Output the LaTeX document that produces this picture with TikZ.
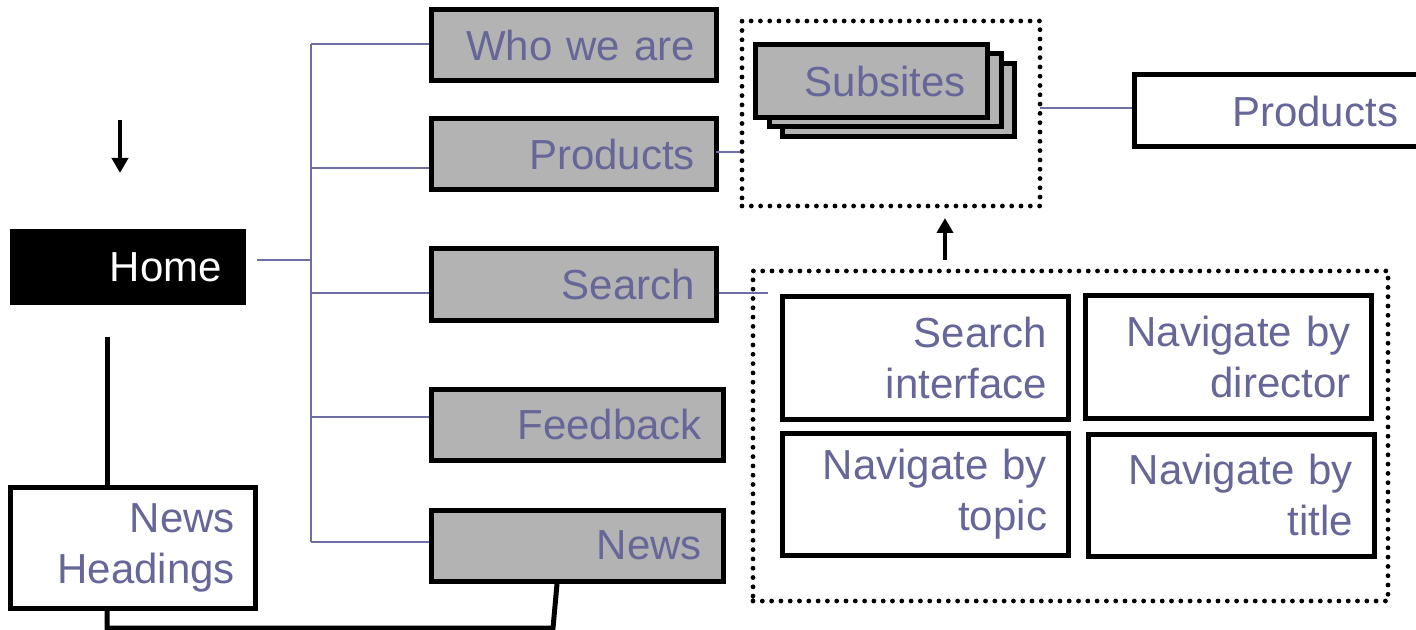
\documentclass[tikz,border=0pt]{standalone}
\usepackage{fontspec}
\setmainfont[WordSpace=0.85]{Liberation Sans}
\usetikzlibrary{arrows.meta}
\definecolor{txtpurple}{RGB}{102,102,153}
\definecolor{linepurple}{RGB}{110,110,165}
\definecolor{boxgray}{RGB}{179,179,179}
\tikzset{
  box/.style={draw=black, line width=2.5pt, inner xsep=10.5pt, inner ysep=0pt, align=right,
    text=txtpurple, font=\fontsize{21pt}{25.5pt}\selectfont, rectangle},
  gbox/.style={box, fill=boxgray},
  wbox/.style={box, fill=white},
  dotbox/.style={draw=black, line width=2.4pt, dash pattern=on 0pt off 4.65pt, line cap=round, rectangle, inner sep=0pt},
  tree/.style={draw=linepurple, line width=1pt},
  thick link/.style={draw=black, line width=2.5pt},
  arr/.style={draw=black, line width=2pt, -{Triangle[length=7.5pt,width=8pt]}}
}
\begin{document}
\begin{tikzpicture}[x=0.5pt,y=-0.5pt]
\useasboundingbox (0,0) rectangle (1416,630);
\clip (0,0) rectangle (1416,630);
\fill[white] (0,0) rectangle (1416,630);

% Home and left column
\node[box, fill=black, draw=black, text=white, inner xsep=11.5pt, text width=94.5pt,
  minimum width=117.5pt, minimum height=37.5pt, line width=0pt] (home) at (127.5,267) {Home};
\node[wbox, inner xsep=10pt, text width=102.5pt, minimum width=122.5pt, minimum height=60.5pt]
  (nh) at (132.5,547.5) {News\\Headings};

% gray column
\node[gbox, text width=121.5pt, minimum width=142.5pt, minimum height=35.5pt] (who) at (573.5,45.5) {Who we are};
\node[gbox, text width=121.5pt, minimum width=142.5pt, minimum height=35.5pt] (prod) at (573.5,154.5) {Products};
\node[gbox, text width=121.5pt, minimum width=142.5pt, minimum height=35.5pt] (srch) at (573.5,284.5) {Search};
\node[gbox, text width=125pt, minimum width=146pt, minimum height=35.5pt] (fb) at (577,424.5) {Feedback};
\node[gbox, text width=125pt, minimum width=146pt, minimum height=35.5pt] (news) at (577,545.5) {News};

% subsites group
\node[dotbox, minimum width=149pt, minimum height=92.5pt] (grp1) at (891,113.5) {};
\node[gbox, text width=95pt, minimum width=116pt, minimum height=36.5pt] (sub3) at (898,100) {};
\node[gbox, text width=95pt, minimum width=116pt, minimum height=36.5pt] (sub2) at (885,90) {};
\node[gbox, text width=95pt, minimum width=116pt, minimum height=36.5pt] (sub1) at (871,81) {Subsites};

% products right
\node[wbox, text width=121.5pt, minimum width=142.5pt, minimum height=36pt] (prodR) at (1276.5,111) {Products};

% search group
\node[dotbox, minimum width=317.5pt, minimum height=165pt] (grp2) at (1070.5,436) {};
\node[wbox, text width=122pt, minimum width=143pt, minimum height=61pt] (si) at (925,358) {Search\\interface};
\node[wbox, text width=122pt, minimum width=143pt, minimum height=61pt] (nd) at (1228.5,357) {Navigate by\\director};
\node[wbox, text width=122pt, minimum width=143pt, minimum height=61pt] (nt) at (925,494) {Navigate by\\topic};
\node[wbox, text width=122pt, minimum width=143pt, minimum height=61pt] (nti) at (1231,495) {Navigate by\\title};

% tree coordinates
\coordinate (b1) at (311,44);
\coordinate (b2) at (311,168);
\coordinate (b3) at (311,293);
\coordinate (b4) at (311,417);
\coordinate (b5) at (311,542);
\coordinate (hs) at (257,260);
\coordinate (hb) at (311,260);
\path[tree] (b1) -- (b5);
\path[tree] (hs) -- (hb);
\path[tree] (b1) -- (b1 -| who.west);
\path[tree] (b2) -- (b2 -| prod.west);
\path[tree] (b3) -- (b3 -| srch.west);
\path[tree] (b4) -- (b4 -| fb.west);
\path[tree] (b5) -- (b5 -| news.west);

% purple links to groups
\coordinate (p1) at (716,152);
\path[tree] (p1) -- (p1 -| grp1.west);
\coordinate (p2) at (1040,108);
\path[tree] (p2) -- (p2 -| prodR.west);
\coordinate (sEnd) at (768,293);
\path[tree] (sEnd -| srch.east) -- (sEnd);

% arrows
\coordinate (a1s) at (120,120);
\coordinate (a1e) at (120,173);
\draw[arr] (a1s) -- (a1e);
\coordinate (a2s) at (945,260);
\coordinate (a2e) at (945,218);
\draw[arr] (a2s) -- (a2e);

% black links
\coordinate (hl) at (107,337);
\path[thick link] (hl) -- (hl |- nh.north);
\coordinate (c1) at (107,628);
\coordinate (c2) at (553,628);
\coordinate (c3) at (557,584);
\path[thick link] (hl |- nh.south) -- (c1) -- (c2) -- (c3);
\end{tikzpicture}
\end{document}
